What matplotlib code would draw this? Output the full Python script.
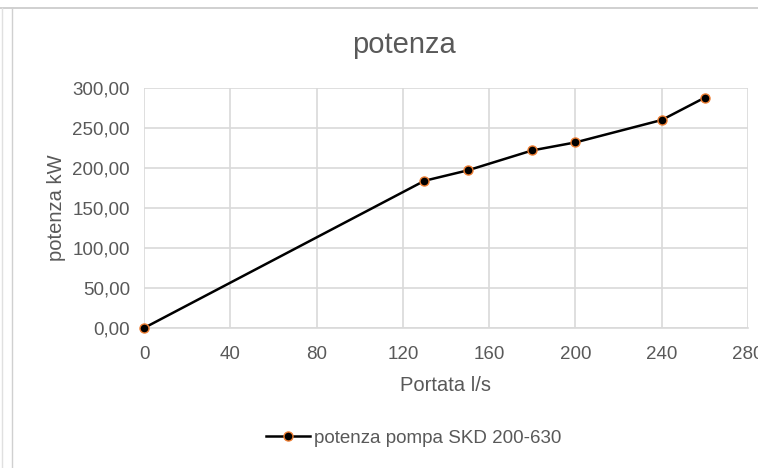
import matplotlib
matplotlib.use("Agg")
import matplotlib.pyplot as plt
from matplotlib.lines import Line2D
from matplotlib.ticker import FuncFormatter, MultipleLocator

# portata (l/s) e potenza assorbita (kW) della pompa
portata = [0, 130, 150, 180, 200, 240, 260]
potenza = [0, 184, 197, 222, 232, 260, 288]

titolo = "potenza"
etichetta_x = "Portata l/s"
etichetta_y = "potenza kW"
serie = "potenza pompa SKD 200-630"

grigio = "#595959"
griglia = "#d9d9d9"
arancio = "#ED7D31"

plt.rcParams["font.family"] = ["Liberation Sans", "DejaVu Sans"]

fig = plt.figure(figsize=(7.58, 4.68), dpi=100)
W, H = 758, 468
ax = fig.add_axes([144 / W, 1 - 328 / H, (748 - 144) / W, (328 - 88) / H])

ax.plot(portata, potenza, color="black", lw=1.8, marker="o", ms=6.5,
        mfc="black", mec=arancio, mew=1.0, zorder=3, clip_on=False)

ax.set_xlim(0, 280)
ax.set_ylim(0, 300)
ax.xaxis.set_major_locator(MultipleLocator(40))
ax.yaxis.set_major_locator(MultipleLocator(50))
ax.yaxis.set_major_formatter(FuncFormatter(lambda v, p: f"{v:.2f}".replace(".", ",")))

ax.grid(True, color=griglia, lw=1.2)
ax.set_axisbelow(True)
for s in ax.spines.values():
    s.set_visible(False)
ax.spines["bottom"].set_visible(True)
ax.spines["bottom"].set_color(griglia)
ax.spines["bottom"].set_linewidth(1.2)
ax.tick_params(length=0, labelsize=13.5, colors=grigio)
ax.tick_params(axis="x", pad=13)
ax.tick_params(axis="y", pad=10)

ax.set_xlabel(etichetta_x, fontsize=14.5, color=grigio, labelpad=9)
ax.set_ylabel(etichetta_y, fontsize=14.5, color=grigio, labelpad=5)
fig.text(404 / W, 1 - 45 / H, titolo, fontsize=21, color=grigio,
         ha="center", va="center")

handle = Line2D([], [], color="black", lw=1.8, marker="o", ms=6.5,
                mfc="black", mec=arancio, mew=1.0)
fig.legend([handle], [serie], loc="center", bbox_to_anchor=(414 / W, 1 - 438 / H),
           frameon=False, fontsize=13.5, labelcolor=grigio, handlelength=2.3,
           handletextpad=0.25)

# bordi del foglio di calcolo
fig.add_artist(Line2D([0, 1], [1 - 8 / H] * 2, color="#c8c8c8", lw=1.2))
fig.add_artist(Line2D([12 / W] * 2, [0, 1 - 8 / H], color="#d0d0d0", lw=1.0))
fig.add_artist(Line2D([2 / W] * 2, [0, 1 - 8 / H], color="#e0e0e0", lw=1.0))

fig.savefig("out.png", dpi=100)
